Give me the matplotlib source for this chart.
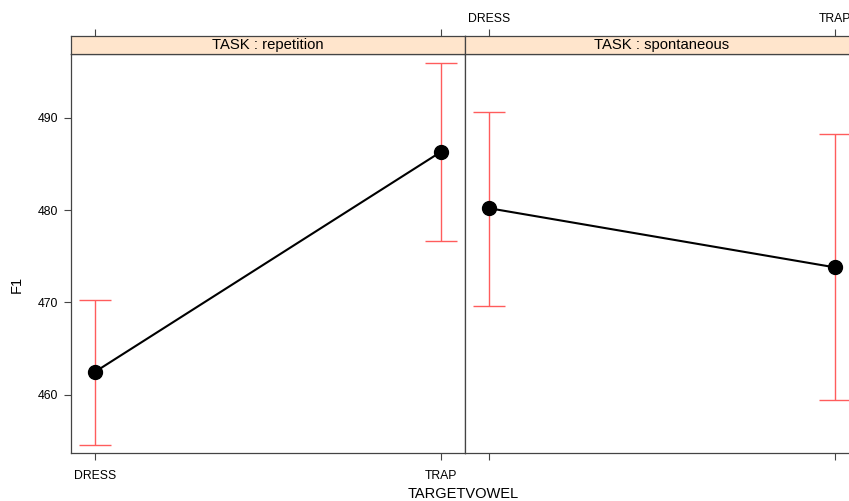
import numpy as np
import matplotlib.pyplot as plt

plt.rcParams['font.family'] = ['Liberation Sans', 'DejaVu Sans']

vowels = ['DRESS', 'TRAP']
tasks = ['repetition', 'spontaneous']
fit = {'repetition': [462.5, 486.3], 'spontaneous': [480.2, 473.8]}
lower = {'repetition': [454.6, 476.7], 'spontaneous': [469.6, 459.4]}
upper = {'repetition': [470.3, 495.9], 'spontaneous': [490.6, 488.2]}

W, H = 849, 501
fig = plt.figure(figsize=(W / 100, H / 100), dpi=100, facecolor='w')

frame_col = '#444444'
x = np.arange(1, len(vowels) + 1)
px_left = [71, 465]
px_w = 394
top_px, strip_px, bot_px = 36, 54, 453

for i, task in enumerate(tasks):
    l = px_left[i] / W
    w = px_w / W
    ax = fig.add_axes([l, 1 - bot_px / H, w, (bot_px - strip_px) / H])
    st = fig.add_axes([l, 1 - strip_px / H, w, (strip_px - top_px) / H])

    f = np.array(fit[task])
    lo = np.array(lower[task])
    hi = np.array(upper[task])
    ax.errorbar(x, f, yerr=[f - lo, hi - f], fmt='none', ecolor='#ff5c5c',
                elinewidth=1, capsize=11.5, capthick=1, zorder=2)
    ax.plot(x, f, color='black', lw=1.5, marker='o', ms=10, zorder=3)

    ax.set_xlim(0.93, 2.07)
    ax.set_ylim(453.7, 496.9)
    ax.set_xticks(x)
    ax.set_yticks([460, 470, 480, 490])
    for sp in ax.spines.values():
        sp.set_color(frame_col)
        sp.set_linewidth(0.9)
    ax.tick_params(direction='out', length=5, width=0.8, color=frame_col,
                   labelsize=8.8)
    ax.tick_params(axis='x', pad=7)
    ax.tick_params(axis='y', pad=4)
    if i == 0:
        ax.set_xticklabels(vowels)
    else:
        ax.set_xticklabels([])
        ax.tick_params(axis='y', left=False, labelleft=False, right=True)

    st.set_facecolor('#ffe5cc')
    st.set_xlim(0.93, 2.07)
    st.set_ylim(0, 1)
    st.set_yticks([])
    st.set_xticks(x)
    st.tick_params(axis='x', bottom=False, labelbottom=False, top=True,
                   direction='out', length=5, width=0.8, color=frame_col,
                   labelsize=8.8, pad=3)
    st.tick_params(axis='x', labeltop=(i == 1))
    if i == 1:
        st.set_xticklabels(vowels)
    for sp in st.spines.values():
        sp.set_color(frame_col)
        sp.set_linewidth(0.9)
    st.text(0.5, 0.5, 'TASK : ' + task, transform=st.transAxes,
            ha='center', va='center', fontsize=10.7)

fig.text(17 / W, 1 - 284 / H, 'F1', rotation=90, ha='center', va='center',
         fontsize=10.5)
fig.text(463 / W, 1 - 494 / H, 'TARGETVOWEL', ha='center', va='center',
         fontsize=10.5)

fig.savefig('out.png', dpi=100)
